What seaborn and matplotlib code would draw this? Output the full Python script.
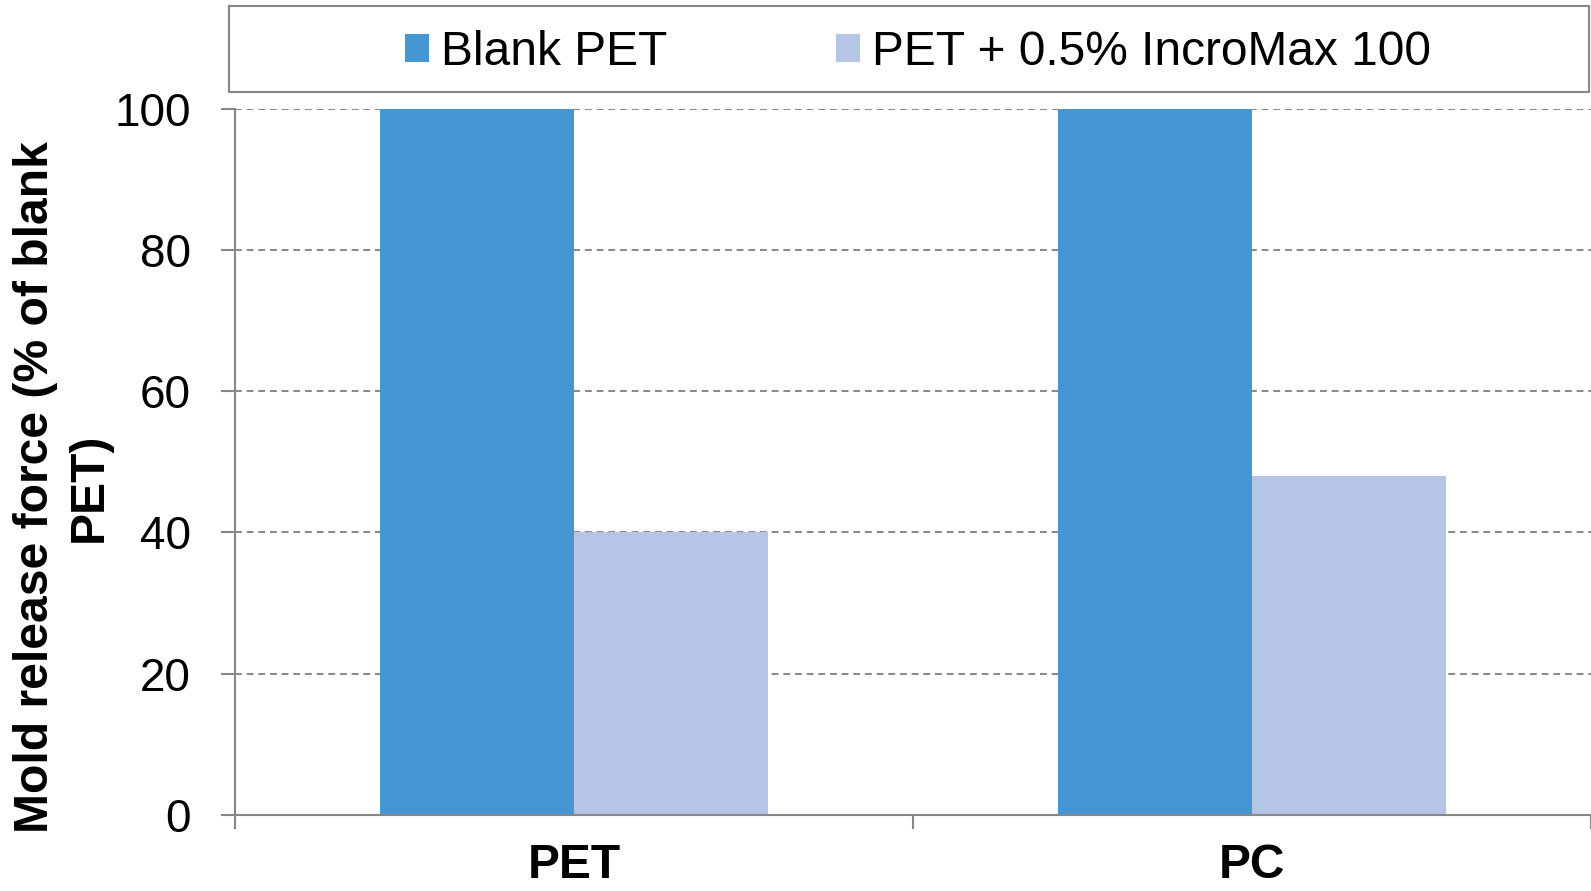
import matplotlib
matplotlib.use("Agg")
import matplotlib.pyplot as plt
from matplotlib.patches import Rectangle
import seaborn as sns
import pandas as pd

# Mold release force relative to blank PET
materials = ["PET", "PC"]
samples = ["Blank PET", "PET + 0.5% IncroMax 100"]
blank_values = [100, 100]
additive_values = [40, 48]
y_ticks = [0, 20, 40, 60, 80, 100]

blue = "#4597D3"
light = "#B5C5E5"
gray = "#878787"

sns.set_theme(style="white")
plt.rcParams["font.family"] = ["Liberation Sans", "DejaVu Sans"]
plt.rcParams["text.color"] = "black"
plt.rcParams["xtick.labelcolor"] = "black"
plt.rcParams["ytick.labelcolor"] = "black"

df = pd.DataFrame({
    "material": materials * 2,
    "sample": [samples[0]] * len(materials) + [samples[1]] * len(materials),
    "force": blank_values + additive_values,
})

fig = plt.figure(figsize=(15.91, 8.91), dpi=100)
ax = fig.add_axes([0.1477, 0.0855, 0.8523, 0.7926])

sns.barplot(data=df, x="material", y="force", hue="sample", order=materials,
            hue_order=samples, palette=[blue, light], saturation=1,
            width=0.571, gap=0, linewidth=0, ax=ax)

handles, labels = ax.get_legend_handles_labels()
if ax.get_legend() is not None:
    ax.get_legend().remove()

ax.set_xlim(-0.5, 1.5)
ax.set_ylim(0, 100)
ax.set_xlabel("")
ax.set_ylabel("")

# category boundaries carry the tick marks, names sit at the centres
ax.set_xticks([-0.5, 0.5, 1.5])
ax.set_xticklabels([])
ax.set_xticks([0, 1], minor=True)
ax.set_xticklabels(materials, minor=True, fontsize=34.5, fontweight="bold",
                   color="black")
ax.tick_params(axis="x", which="major", length=10, width=1.5, color=gray,
               direction="out", bottom=True)
ax.tick_params(axis="x", which="minor", length=0, pad=20, bottom=True)

ax.set_yticks(y_ticks)
ax.set_yticklabels([str(v) for v in y_ticks], fontsize=33, color="black")
ax.tick_params(axis="y", length=10, width=1.5, color=gray, pad=22,
               direction="out", left=True)

ax.yaxis.grid(True, color=gray, linestyle=(0, (3.5, 2.5)), linewidth=1.4)
ax.xaxis.grid(False)
ax.set_axisbelow(True)

for side in ["top", "right"]:
    ax.spines[side].set_visible(False)
for side in ["left", "bottom"]:
    ax.spines[side].set_color(gray)
    ax.spines[side].set_linewidth(1.5)

fig.text(0.039, 0.453, "Mold release force (% of blank\nPET)", rotation=90,
         ha="center", va="center", multialignment="center", linespacing=1.25,
         fontsize=34.6, fontweight="bold", color="black")

# legend box across the top
fig.patches.append(Rectangle((0.144, 0.897), 0.855, 0.096,
                             transform=fig.transFigure, fill=False,
                             edgecolor=gray, linewidth=1.5))
for h in handles:
    h.set_edgecolor("none")
fig.legend(handles, labels, loc="center", bbox_to_anchor=(0.577, 0.941),
           ncol=2, frameon=False, fontsize=34.5, handlelength=0.5,
           handleheight=0.5, handletextpad=0.26, columnspacing=3.5,
           labelcolor="black")

fig.savefig("out.png", dpi=100)
